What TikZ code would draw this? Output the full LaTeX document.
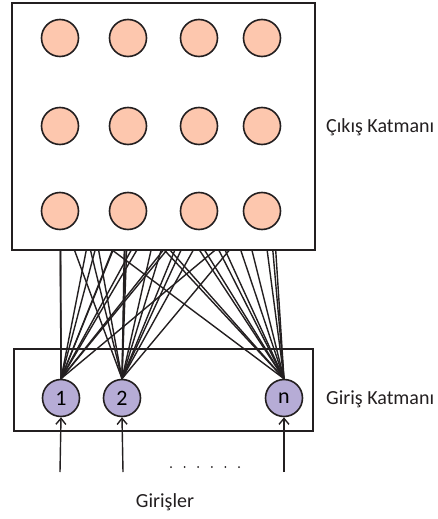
\documentclass[tikz,border=0pt]{standalone}
\usepackage{fontspec}
\setmainfont{Carlito}
\usetikzlibrary{arrows.meta}
\definecolor{outfill}{RGB}{253,199,174}
\definecolor{infill}{RGB}{182,172,214}
\definecolor{ink}{RGB}{35,31,32}
\tikzset{
	outneuron/.style={circle, draw=ink, line width=1.6pt, fill=outfill, minimum size=37pt, inner sep=0pt},
	inneuron/.style={circle, draw=ink, line width=1.6pt, fill=infill, minimum size=37pt, inner sep=0pt, font=\fontsize{22}{22}\selectfont},
	layerbox/.style={draw=ink, line width=1.5pt},
	link/.style={draw=ink, line width=1.4pt},
	feed/.style={draw=ink, line width=1.4pt, -{Straight Barb[length=6pt,width=10pt]}},
	lbl/.style={font=\fontsize{20}{20}\selectfont, text=ink, inner sep=0pt}
}
\begin{document}
\begin{tikzpicture}[x=1pt, y=-1pt]
	\useasboundingbox (0,0) rectangle (438,519);
	% output layer
	\draw[layerbox](12, 3) rectangle (315, 250);
	\foreach \r/\y in {1/38, 2/126, 3/211}
		\foreach \c/\x in {1/60, 2/128, 3/199, 4/262}
			\node[outneuron] (o\r\c) at (\x, \y) {};
	\node[lbl, anchor=west] (outlbl) at (326, 127) {Çıkış Katmanı};
	% input layer
	\draw[layerbox](14, 349) rectangle (313, 431);
	\node[inneuron] (i1) at (61, 398) {1};
	\node[inneuron] (i2) at (122, 398) {2};
	\node[inneuron] (in) at (284, 398) {n};
	\node[lbl, anchor=west] (inlbl) at (326, 399) {Giriş Katmanı};
	% connections
	\begin{scope}
		\clip (0, 251) rectangle (438, 400);
		\foreach \i in {i1, i2, in}
			\foreach \r in {1, 2, 3}
				\foreach \c in {1, 2, 3, 4}
					\draw[link](\i.north)--(o\r\c.center);
	\end{scope}
	% inputs
	\coordinate (x1) at (60, 472);
	\coordinate (x2) at (123, 472);
	\coordinate (xn) at (284, 472);
	\draw[feed](x1)--(i1.south);
	\draw[feed](x2)--(i2.south);
	\draw[feed](xn)--(in.south);
	\foreach \k in {0, ..., 5}
		\fill[ink](171+13.6*\k, 467) circle (1pt);
	\node[lbl] (inputs) at (165, 502) {Girişler};
\end{tikzpicture}
\end{document}
